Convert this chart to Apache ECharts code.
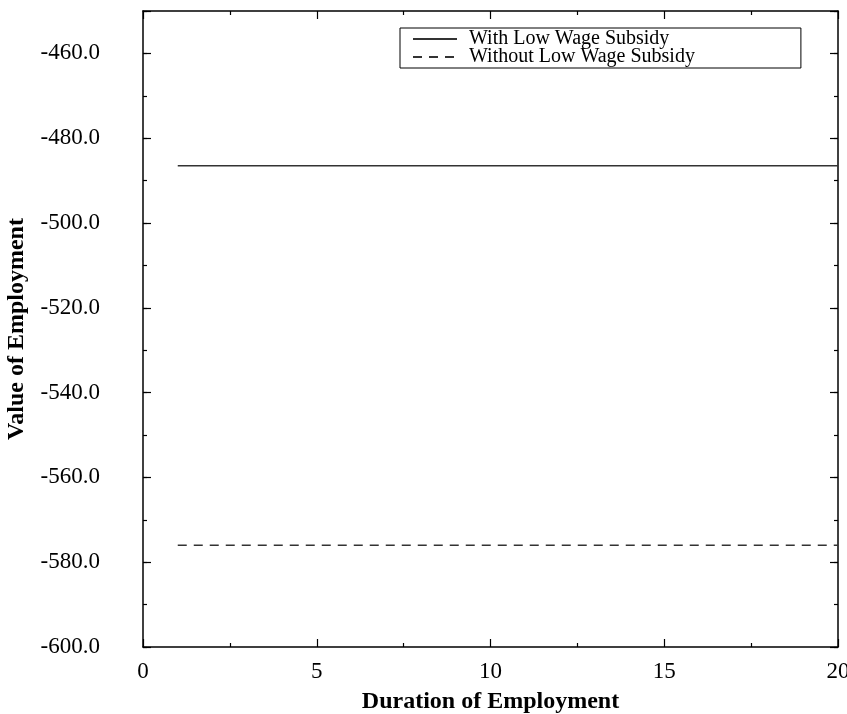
<!DOCTYPE html>
<html>
<head>
<meta charset="utf-8">
<script src="https://cdn.jsdelivr.net/npm/echarts@6/dist/echarts.min.js"></script>
<style>html,body{margin:0;padding:0;background:#fff}#c{width:847px;height:714px}</style>
</head>
<body>
<div id="c"></div>
<script>
var durations = [1,2,3,4,5,6,7,8,9,10,11,12,13,14,15,16,17,18,19,20];
var withSubsidy = [-486.5,-486.5,-486.5,-486.5,-486.5,-486.5,-486.5,-486.5,-486.5,-486.5,-486.5,-486.5,-486.5,-486.5,-486.5,-486.5,-486.5,-486.5,-486.5,-486.5];
var withoutSubsidy = [-576,-576,-576,-576,-576,-576,-576,-576,-576,-576,-576,-576,-576,-576,-576,-576,-576,-576,-576,-576];
var seriesNames = ['With Low Wage Subsidy', 'Without Low Wage Subsidy'];
var xTitle = 'Duration of Employment';
var yTitle = 'Value of Employment';

var font = 'Liberation Serif';
function pairs(xs, ys){ return xs.map(function(x,i){ return [x, ys[i]]; }); }

var chart = echarts.init(document.getElementById('c'));
var axisLine = {show:true, lineStyle:{color:'#000', width:1.5}};
chart.setOption({
  animation:false,
  backgroundColor:'#fff',
  grid:{left:143, right:9, top:11, bottom:67, containLabel:false, outerBoundsMode:'none'},
  legend:{
    orient:'vertical', left:400, top:28,
    data:seriesNames,
    itemWidth:44, itemHeight:10, itemGap:-2,
    padding:[1,106,1,12],
    borderColor:'#000', borderWidth:1, borderRadius:0,
    itemStyle:{opacity:0},
    textStyle:{fontFamily:font, fontSize:20, color:'#000', padding:[0,0,0,7]}
  },
  xAxis:[
    {type:'value', position:'bottom', min:0, max:20, interval:5,
     axisLine:axisLine,
     axisTick:{show:true, inside:true, length:8, lineStyle:{color:'#000', width:1.2}},
     minorTick:{show:true, splitNumber:2, length:4, lineStyle:{color:'#000', width:1.2}},
     splitLine:{show:false},
     axisLabel:{fontFamily:font, fontSize:23, color:'#000', margin:13},
     name:xTitle, nameLocation:'middle', nameGap:43,
     nameTextStyle:{fontFamily:font, fontSize:24, fontWeight:'bold', color:'#000'}},
    {type:'value', position:'top', min:0, max:20, interval:5,
     axisLine:axisLine,
     axisTick:{show:true, inside:true, length:8, lineStyle:{color:'#000', width:1.2}},
     minorTick:{show:true, splitNumber:2, length:4, lineStyle:{color:'#000', width:1.2}},
     splitLine:{show:false}, axisLabel:{show:false}}
  ],
  yAxis:[
    {type:'value', position:'left', min:-600, max:-450, interval:20,
     axisLine:axisLine,
     axisTick:{show:true, inside:true, length:8, lineStyle:{color:'#000', width:1.2}},
     splitLine:{show:false},
     axisLabel:{fontFamily:font, fontSize:23, color:'#000', margin:43,
       formatter:function(v){ return v > -455 ? '' : v.toFixed(1); }},
     name:yTitle, nameLocation:'middle', nameGap:114,
     nameTextStyle:{fontFamily:font, fontSize:24, fontWeight:'bold', color:'#000'}},
    {type:'value', position:'left', min:-600, max:-450, interval:10,
     axisLine:{show:false},
     axisTick:{show:true, inside:true, length:4, lineStyle:{color:'#000', width:1.2}},
     splitLine:{show:false}, axisLabel:{show:false}},
    {type:'value', position:'right', min:-600, max:-450, interval:20,
     axisLine:axisLine,
     axisTick:{show:true, inside:true, length:8, lineStyle:{color:'#000', width:1.2}},
     splitLine:{show:false}, axisLabel:{show:false}},
    {type:'value', position:'right', min:-600, max:-450, interval:10,
     axisLine:{show:false},
     axisTick:{show:true, inside:true, length:4, lineStyle:{color:'#000', width:1.2}},
     splitLine:{show:false}, axisLabel:{show:false}}
  ],
  series:[
    {name:seriesNames[0], type:'line', xAxisIndex:0, yAxisIndex:0, data:pairs(durations, withSubsidy),
     symbol:'none', color:'#333', lineStyle:{color:'#333', width:1.3, type:'solid'}},
    {name:seriesNames[1], type:'line', xAxisIndex:0, yAxisIndex:0, data:pairs(durations, withoutSubsidy),
     symbol:'none', color:'#333', lineStyle:{color:'#333', width:1.3, type:[9,7]}}
  ]
});
</script>
</body>
</html>
